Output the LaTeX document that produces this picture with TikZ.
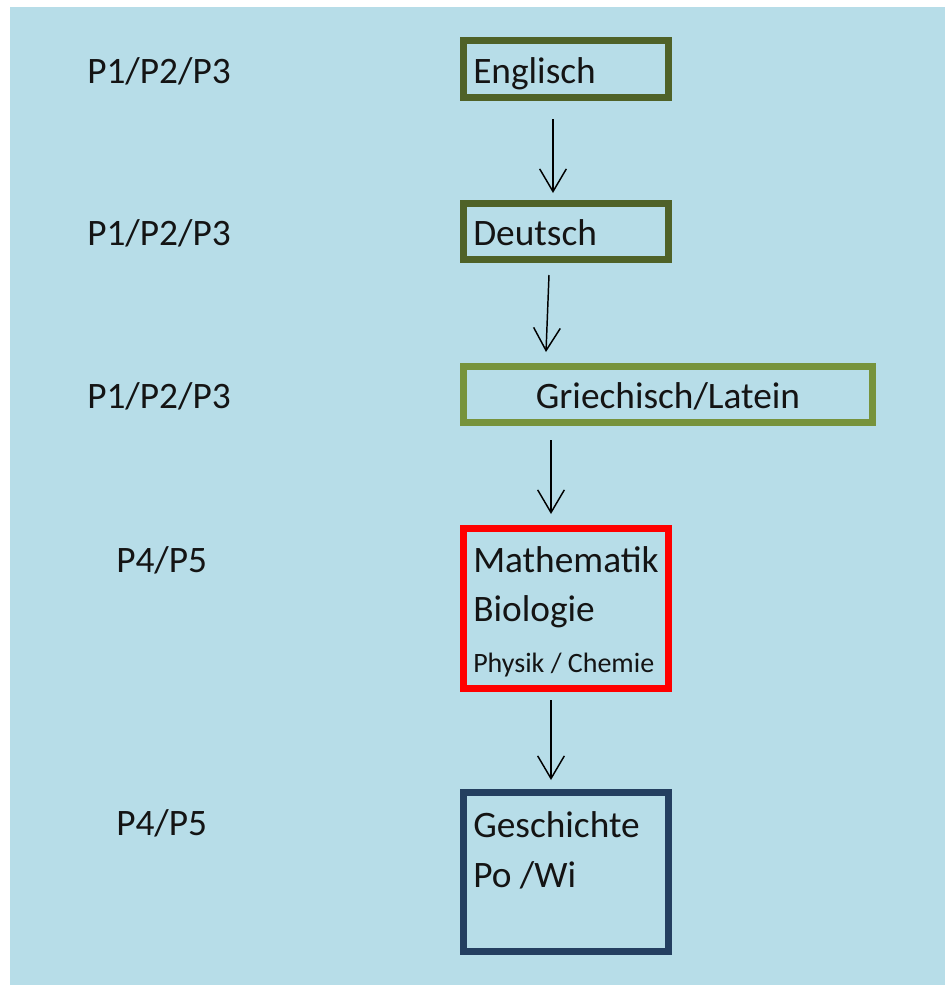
\documentclass[tikz,border=0pt]{standalone}
\usepackage{fontspec}
\setmainfont{Carlito}
\usetikzlibrary{arrows.meta,calc}
\definecolor{bgblue}{HTML}{B7DDE8}
\definecolor{olivedark}{HTML}{4F6228}
\definecolor{olivelight}{HTML}{77933C}
\definecolor{boxred}{HTML}{FF0000}
\definecolor{navy}{HTML}{243F60}
\definecolor{txt}{HTML}{141414}
\begin{document}
\begin{tikzpicture}[x=0.75pt,y=-0.75pt,
  box/.style={draw,line width=5.25pt,minimum width=205*0.75pt,inner sep=0pt},
  lbl/.style={anchor=base west,inner sep=0pt,text=txt,font=\fontsize{28}{34}\selectfont},
  small/.style={anchor=base west,inner sep=0pt,text=txt,font=\fontsize{21}{25}\selectfont},
  arr/.style={-{Straight Barb[length=17pt,width=20pt]},line width=1.1pt,black}]
\useasboundingbox (0,0) rectangle (945,985);
\fill[white] (0,0) rectangle (945,985);
\fill[bgblue] (10,7) rectangle (945,985);

% boxes
\node[box,draw=olivedark,minimum height=57*0.75pt] (eng) at (566,69) {};
\node[box,draw=olivedark,minimum height=56*0.75pt] (deu) at (566,231.5) {};
\node[box,draw=olivelight,minimum width=409*0.75pt,minimum height=56*0.75pt] (gri) at (668,394.5) {};
\node[box,draw=boxred,minimum height=160*0.75pt] (mat) at (566,608.5) {};
\node[box,draw=navy,minimum height=159*0.75pt] (ges) at (566,872) {};

% box texts
\node[lbl] (t1) at (473,83) {Englisch};
\node[lbl] (t2) at (473,245) {Deutsch};
\node[lbl,anchor=base] (t3) at (668,408) {Griechisch/Latein};
\node[lbl] (t4a) at (473,572) {Mathematik};
\node[lbl] (t4b) at (473,621) {Biologie};
\node[small] (t4c) at (473,672) {Physik / Chemie};
\node[lbl] (t5a) at (473,837) {Geschichte};
\node[lbl] (t5b) at (473,887) {Po /Wi};

% left labels
\node[lbl] (l1) at (87,83) {P1/P2/P3};
\node[lbl] (l2) at (87,245) {P1/P2/P3};
\node[lbl] (l3) at (87,408) {P1/P2/P3};
\node[lbl] (l4) at (116,572) {P4/P5};
\node[lbl] (l5) at (116,835) {P4/P5};

% arrows
\draw[arr] ($(eng.south)+(-13,18)$) -- ($(deu.north)+(-13,-7)$);
\draw[arr] ($(deu.south)+(-17,12)$) -- ($(gri.north)+(-122,-11)$);
\draw[arr] ($(gri.south)+(-117,14)$) -- ($(mat.north)+(-15,-11)$);
\draw[arr] ($(mat.south)+(-15,8)$) -- ($(ges.north)+(-15,-9)$);
\end{tikzpicture}
\end{document}
